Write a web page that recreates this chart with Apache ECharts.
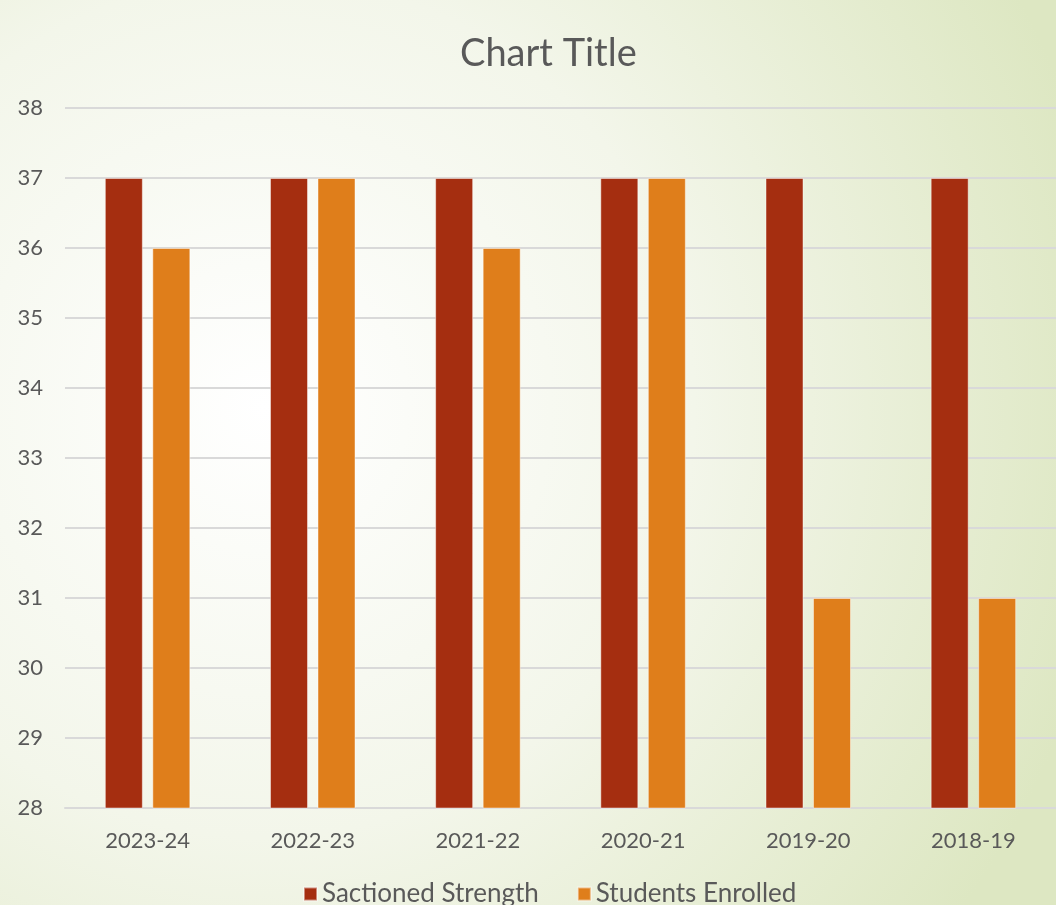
<!DOCTYPE html>
<html>
<head>
<meta charset="utf-8">
<script src="https://cdn.jsdelivr.net/npm/echarts@6/dist/echarts.min.js"></script>
<style>
    html, body { margin: 0; padding: 0; }
    #main { width: 1056px; height: 905px; }
</style>
</head>
<body>
<div id="main"></div>
<script>
var categories = ['2023-24', '2022-23', '2021-22', '2020-21', '2019-20', '2018-19'];
var sanctioned = [37, 37, 37, 37, 37, 37];
var enrolled = [36, 37, 36, 37, 31, 31];
var seriesNames = ['Sactioned Strength', 'Students Enrolled'];

loadChart();

function loadChart() {
    var myChart = echarts.init(document.getElementById('main'));
    var font = 'Lato, "Noto Sans", sans-serif';
    var option = {
        backgroundColor: {
            type: 'radial', x: 0.25, y: 0.45, r: 0.95,
            colorStops: [
                { offset: 0, color: '#ffffff' },
                { offset: 0.5, color: '#f3f6ea' },
                { offset: 1, color: '#dde7c2' }
            ]
        },
        title: {
            text: 'Chart Title',
            left: 455,
            top: 30,
            textStyle: { color: '#595959', fontSize: 38, fontWeight: 'normal', fontFamily: font }
        },
        legend: {
            data: seriesNames,
            top: 876,
            left: 298,
            itemWidth: 13,
            itemHeight: 13,
            itemGap: 38,
            icon: 'rect',
            textStyle: { color: '#595959', fontSize: 26, fontFamily: font }
        },
        grid: { left: 65, right: -4, top: 108, bottom: 97, containLabel: false },
        xAxis: {
            type: 'category',
            data: categories,
            axisLine: { show: true, lineStyle: { color: '#d9d9d9', width: 2 } },
            axisTick: { show: false },
            axisLabel: { color: '#595959', fontSize: 22, margin: 22, fontFamily: font }
        },
        yAxis: {
            type: 'value',
            min: 28,
            max: 38,
            interval: 1,
            axisLine: { show: false },
            axisTick: { show: false },
            axisLabel: { color: '#595959', fontSize: 22, margin: 22, fontFamily: font },
            splitLine: { lineStyle: { color: '#d9d9d9', width: 2 } }
        },
        series: [
            {
                name: seriesNames[0], type: 'bar',
                barWidth: 38, barGap: '25%',
                itemStyle: { color: '#a52e10', borderColor: 'rgba(255,255,255,0.45)', borderWidth: 1 },
                data: sanctioned
            },
            {
                name: seriesNames[1], type: 'bar',
                barWidth: 38, barGap: '25%',
                itemStyle: { color: '#df7e1b', borderColor: 'rgba(255,255,255,0.45)', borderWidth: 1 },
                data: enrolled
            }
        ]
    };
    myChart.setOption(option);
}
</script>
</body>
</html>
